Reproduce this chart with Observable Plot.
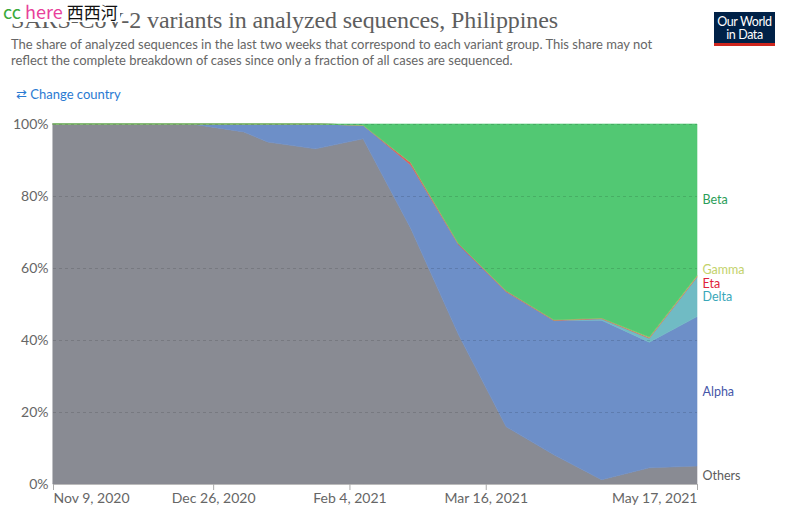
<!DOCTYPE html>
<html>
<head>
<meta charset="utf-8">
<script src="https://cdn.jsdelivr.net/npm/d3@7"></script>
<script src="https://cdn.jsdelivr.net/npm/@observablehq/plot@0.6"></script>
<style>
  html, body { margin: 0; padding: 0; background: #fff; }
  body { width: 788px; height: 518px; position: relative; overflow: hidden; font-family: Lato, "Noto Sans", sans-serif; }
  #wm { position: absolute; left: 0; top: 1px; background: #fff; font-size: 18px; line-height: 20px; padding: 0 2px 0 3px; z-index: 5; font-family: "Noto Sans CJK SC", Lato, sans-serif; }
  #wm .a { color: #3aaa3a; } #wm .b { color: #e8409a; } #wm .c { color: #111; font-size: 17px; }
  #title { position: absolute; left: 11px; top: 7px; font-family: "Liberation Serif", serif; font-size: 24px; color: #5e5e5e; white-space: nowrap; letter-spacing: -0.1px; }
  #sub { position: absolute; left: 11px; top: 37px; font-size: 13px; line-height: 15.5px; color: #666; width: 650px; }
  #change { position: absolute; left: 16px; top: 86px; font-size: 13px; color: #2a7ad2; }
  #logo { position: absolute; left: 714px; top: 12px; width: 61px; background: #002147; border-bottom: 3px solid #ce261e; color: #fff; font-size: 12.5px; line-height: 13px; text-align: center; padding-top: 3px; height: 28px; letter-spacing: -0.4px; }
  #chart { position: absolute; left: 0; top: 110px; }
</style>
</head>
<body>
<div id="wm"><span class="a">cc</span> <span class="b">here</span> <span class="c">西西河</span></div>
<div id="title">SARS-CoV-2 variants in analyzed sequences, Philippines</div>
<div id="sub">The share of analyzed sequences in the last two weeks that correspond to each variant group. This share may not reflect the complete breakdown of cases since only a fraction of all cases are sequenced.</div>
<div id="change">⇄ Change country</div>
<div id="logo">Our World<br>in Data</div>
<div id="chart"></div>
<script>
// ---- data ----
const dates = ["2020-11-09","2020-11-23","2020-12-07","2020-12-21","2021-01-04","2021-01-11","2021-01-25","2021-02-08","2021-02-22","2021-03-08","2021-03-22","2021-04-05","2021-04-19","2021-05-03","2021-05-17"];
const variants = ["Others","Alpha","Delta","Eta","Gamma","Beta"];
const others = [100,100,100,99.8,97.8,95,93.1,95.9,71,41.5,15.9,8.1,1.2,4.5,5];
const alpha  = [0,0,0,0.2,2.2,5,6.9,3.8,17.6,25,37.5,37.3,44.3,34.9,41.5];
const delta  = [0,0,0,0,0,0,0,0,0,0,0,0,0.4,1.1,11];
const eta    = [0,0,0,0,0,0,0,0,0.7,0.3,0.3,0.2,0.2,0.2,0.2];
const gamma  = [0,0,0,0,0,0,0,0,0,0,0,0,0,0.1,0.2];
const beta   = [0,0,0,0,0,0,0,0.3,10.7,33.2,46.3,54.4,53.9,59.2,42.1];
const fillColors  = ["#898b93","#6d8fc8","#70bbc4","#e05a5a","#c8d46a","#52c873"];
const labelColors = ["#5b5b5b","#4556a8","#3aa7b9","#e0223c","#c3d26b","#2a9d58"];
const yTicks = [0,20,40,60,80,100];
const xTickDates = ["2020-11-09","2020-12-26","2021-02-04","2021-03-16","2021-05-17"];

// ---- build table ----
const series = {Others: others, Alpha: alpha, Delta: delta, Eta: eta, Gamma: gamma, Beta: beta};
const parse = d3.utcParse("%Y-%m-%d");
const rows = [];
for (const v of variants) dates.forEach((d, i) => rows.push({date: parse(d), variant: v, value: series[v][i]}));

// label positions: middle of last stacked band; overlapping labels are
// grouped and spread evenly around the group's mean position
const last = dates.length - 1;
let cum = 0;
const labels = variants.map(v => { const lo = cum; cum += series[v][last]; return {variant: v, y: (lo + cum) / 2}; });
labels.forEach(l => l.natural = l.y);
const minGap = 3.75; // percentage points
let groups = labels.map(l => ({items: [l], center: l.y}));
let changed = true;
while (changed) {
  changed = false;
  for (let i = 1; i < groups.length; i++) {
    const a = groups[i-1], b = groups[i];
    const aTop = a.center + (a.items.length - 1) * minGap / 2;
    const bBot = b.center - (b.items.length - 1) * minGap / 2;
    if (bBot - aTop < minGap) {
      const items = a.items.concat(b.items);
      groups.splice(i - 1, 2, {items, center: d3.mean(items, d => d.natural)});
      changed = true; break;
    }
  }
}
groups.forEach(g => g.items.forEach((d, k) => d.y = g.center + (k - (g.items.length - 1) / 2) * minGap));
labels.forEach(l => l.date = parse(dates[last]));

const fmt = d3.utcFormat("%b %-d, %Y");
const xt = xTickDates.map(parse);
const axisOpts = {tickFormat: fmt, tickSize: 6, tickPadding: 3, stroke: "#aaa", fill: "#666", fontSize: 14, label: null};
const chart = Plot.plot({
  width: 788, height: 408,
  marginTop: 14, marginBottom: 34, marginLeft: 53, marginRight: 91,
  style: {fontFamily: "Lato, sans-serif", fontSize: "14px", color: "#666", background: "transparent"},
  x: {type: "utc", domain: [parse(dates[0]), parse(dates[last])]},
  y: {domain: [0, 100]},
  color: {domain: variants, range: fillColors},
  marks: [
    Plot.areaY(rows, {x: "date", y: "value", z: "variant", fill: "variant", stroke: "variant", strokeWidth: 0.6, order: variants, curve: "linear"}),
    Plot.ruleY(yTicks, {stroke: "#000", strokeOpacity: 0.13, strokeDasharray: "3,3"}),
    Plot.axisY({ticks: yTicks, tickFormat: d => d + "%", tickSize: 0, tickPadding: 5, fill: "#666", fontSize: 14}),
    Plot.ruleY([0], {stroke: "#bbb"}),
    Plot.axisX({...axisOpts, ticks: xt.slice(0, 1), textAnchor: "start"}),
    Plot.axisX({...axisOpts, ticks: xt.slice(1, -1)}),
    Plot.axisX({...axisOpts, ticks: xt.slice(-1), textAnchor: "end"}),
    Plot.text(labels, {x: "date", y: "y", text: "variant", fill: d => labelColors[variants.indexOf(d.variant)], textAnchor: "start", dx: 5, fontSize: 12.5})
  ]
});
document.getElementById("chart").appendChild(chart);
</script>
</body>
</html>
